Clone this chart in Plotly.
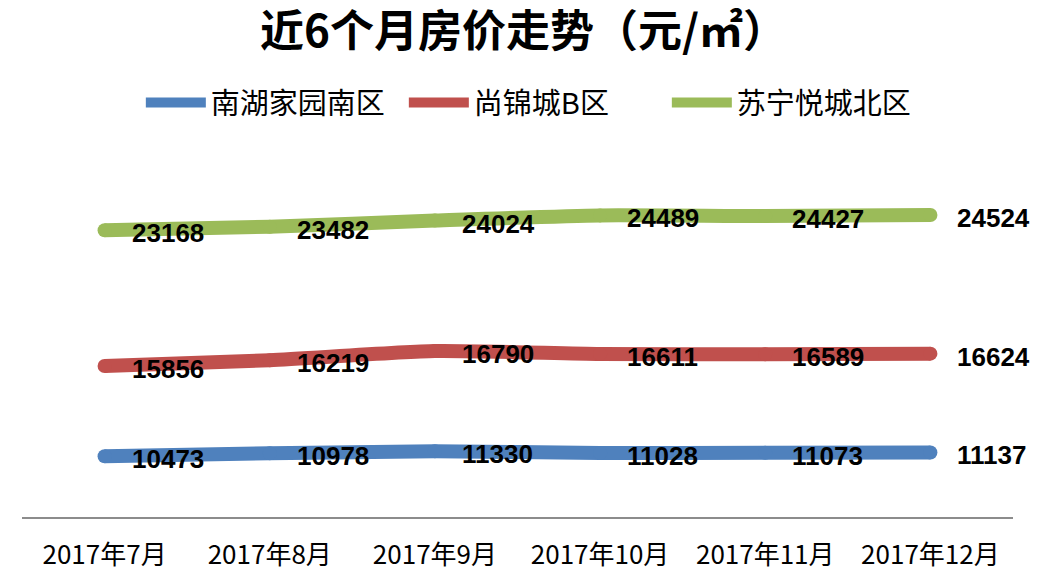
import plotly.graph_objects as go

months = ["2017年7月", "2017年8月", "2017年9月", "2017年10月", "2017年11月", "2017年12月"]
nanhu = [10473, 10978, 11330, 11028, 11073, 11137]
shangjin = [15856, 16219, 16790, 16611, 16589, 16624]
suning = [23168, 23482, 24024, 24489, 24427, 24524]

# each series sits on its own (hidden) value axis, as in the reference
series = [
    ("南湖家园南区", nanhu, "#4F81BD", "y", [-151, 65751]),
    ("尚锦城B区", shangjin, "#C0504D", "y2", [6459, 29922]),
    ("苏宁悦城北区", suning, "#9BBB59", "y3", [-2427, 31219]),
]

fig = go.Figure()
annotations = []
for name, vals, color, yax, rng in series:
    fig.add_trace(go.Scatter(
        x=months, y=vals, name=name, mode="lines", yaxis=yax,
        line=dict(color=color, width=14, shape="spline", smoothing=0.6),
        hoverinfo="x+y+name",
    ))
    # round end caps
    fig.add_trace(go.Scatter(
        x=months, y=vals, mode="markers", yaxis=yax, showlegend=False,
        marker=dict(color=color, size=14, line=dict(width=0)),
        hoverinfo="skip",
    ))
    for m, v in zip(months, vals):
        annotations.append(dict(
            x=m, y=v, xref="x", yref=yax, text=f"<b>{v}</b>", showarrow=False,
            xshift=25, yshift=-3, xanchor="left", yanchor="middle",
            font=dict(family="Liberation Sans, Arial, sans-serif", size=26, color="#000000"),
        ))

hidden = dict(visible=False, showgrid=False, zeroline=False)
fig.update_layout(
    width=1031, height=575,
    margin=dict(l=14, r=26, t=132, b=38),
    paper_bgcolor="white", plot_bgcolor="white",
    title=dict(
        text="<b>近6个月房价走势（元/㎡）</b>",
        x=0.5, xanchor="center", y=1 - 24 / 575, yanchor="middle",
        font=dict(family="Noto Sans CJK SC", size=44, color="#000000"),
    ),
    legend=dict(
        orientation="h", x=0.518, xanchor="center", y=1.0988, yanchor="middle",
        font=dict(family="Noto Sans CJK SC", size=29, color="#000000"),
        itemwidth=60, entrywidth=188, entrywidthmode="pixels",
        traceorder="normal", bgcolor="rgba(0,0,0,0)",
    ),
    xaxis=dict(
        type="category", range=[-0.5, 5.5], showgrid=False, zeroline=False,
        showline=True, linecolor="#8C8C8C", linewidth=2,
        ticks="outside", ticklen=14, tickcolor="rgba(0,0,0,0)",
        tickfont=dict(family="Noto Sans CJK SC", size=26, color="#000000"),
    ),
    yaxis=dict(range=series[0][4], **hidden),
    yaxis2=dict(range=series[1][4], overlaying="y", **hidden),
    yaxis3=dict(range=series[2][4], overlaying="y", **hidden),
    annotations=annotations,
    showlegend=True,
)

fig.write_html("out.html")
